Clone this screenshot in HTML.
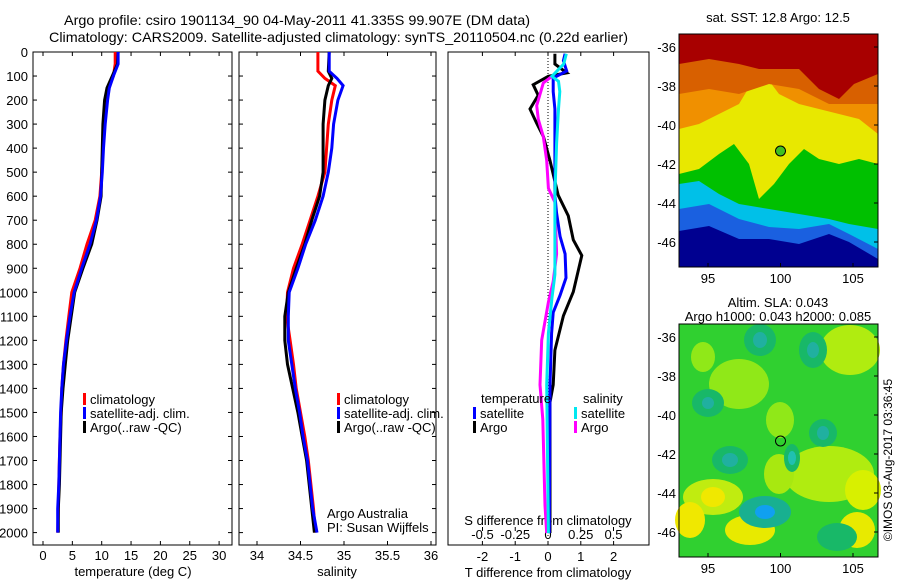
<!DOCTYPE html>
<html><head><meta charset="utf-8"><style>
html,body{margin:0;padding:0;background:#fff;width:900px;height:580px;overflow:hidden}
svg{display:block;font-family:"Liberation Sans",sans-serif}
text{font-size:13px;fill:#000}
</style></head><body>
<svg id="fig" width="900" height="580" viewBox="0 0 900 580" xmlns="http://www.w3.org/2000/svg">
<text x="64" y="25" style="font-size:14px" textLength="466" lengthAdjust="spacingAndGlyphs">Argo profile: csiro 1901134_90 04-May-2011 41.335S 99.907E (DM data)</text>
<text x="49" y="42" style="font-size:14px" textLength="579" lengthAdjust="spacingAndGlyphs">Climatology: CARS2009. Satellite-adjusted climatology: synTS_20110504.nc (0.22d earlier)</text>

<g transform="translate(679,34)">
<rect x="0" y="0" width="199" height="233" fill="#000090"/>
<polygon fill="#1a60e0" points="0,0 199,0 199,225 170,208 150,200 120,210 90,205 60,205 30,192 0,197"/>
<polygon fill="#00c0e8" points="0,0 199,0 199,215 170,200 150,190 120,195 90,193 60,185 30,170 0,175"/>
<polygon fill="#00c000" points="0,0 199,0 199,195 170,190 150,185 120,180 90,175 60,170 40,160 20,147 0,150"/>
<polygon fill="#e8e800" points="0,0 199,0 199,130 180,125 160,130 140,125 125,115 110,130 95,150 80,165 70,130 55,110 40,120 20,135 0,140"/>
<polygon fill="#f09000" points="0,0 199,0 199,100 180,85 160,80 140,75 120,70 100,60 85,40 75,45 60,70 40,80 20,90 0,95"/>
<polygon fill="#d86000" points="0,0 199,0 199,70 150,70 120,55 90,50 60,60 30,55 0,60"/>
<polygon fill="#a80000" points="0,0 199,0 199,40 175,50 160,65 140,55 120,35 100,35 80,35 60,30 30,25 0,30"/>
<circle cx="101.5" cy="117" r="5" fill="#40c020" stroke="#000" stroke-width="1"/>
<rect x="0" y="0" width="199" height="233" fill="none" stroke="#000" stroke-width="1"/>
</g>
<text x="778" y="22" text-anchor="middle">sat. SST: 12.8 Argo: 12.5</text>

<g transform="translate(679,324)">
<rect x="0" y="0" width="199" height="233" fill="#30d030"/>
<ellipse cx="60" cy="60" rx="30" ry="25" fill="#90e818"/>
<ellipse cx="171" cy="26" rx="30" ry="25" fill="#b0ec10"/>
<ellipse cx="24" cy="33" rx="12" ry="15" fill="#90e818"/>
<ellipse cx="101" cy="96" rx="14" ry="18" fill="#90e818"/>
<ellipse cx="150" cy="150" rx="45" ry="28" fill="#b0ec10"/>
<ellipse cx="184" cy="166" rx="18" ry="20" fill="#d8f000"/>
<ellipse cx="34" cy="173" rx="30" ry="18" fill="#c0ec10"/>
<ellipse cx="34" cy="173" rx="12" ry="10" fill="#f0e800"/>
<ellipse cx="11" cy="196" rx="15" ry="18" fill="#f0e800"/>
<ellipse cx="71" cy="206" rx="25" ry="15" fill="#e8ea00"/>
<ellipse cx="178" cy="206" rx="18" ry="18" fill="#e8ea00"/>
<ellipse cx="100" cy="150" rx="15" ry="20" fill="#a8e810"/>
<ellipse cx="81" cy="16" rx="16" ry="16" fill="#18b868"/>
<ellipse cx="81" cy="16" rx="7" ry="8" fill="#20b0a0"/>
<ellipse cx="134" cy="26" rx="14" ry="18" fill="#18b868"/>
<ellipse cx="134" cy="26" rx="6" ry="8" fill="#20b0a0"/>
<ellipse cx="29" cy="79" rx="16" ry="14" fill="#18b868"/>
<ellipse cx="29" cy="79" rx="6" ry="6" fill="#20b0a0"/>
<ellipse cx="144" cy="109" rx="14" ry="14" fill="#18b868"/>
<ellipse cx="144" cy="109" rx="6" ry="7" fill="#20b0a0"/>
<ellipse cx="113" cy="134" rx="8" ry="14" fill="#18b868"/>
<ellipse cx="113" cy="134" rx="4" ry="7" fill="#20c0b0"/>
<ellipse cx="51" cy="136" rx="18" ry="14" fill="#18b868"/>
<ellipse cx="51" cy="136" rx="8" ry="7" fill="#20b0a0"/>
<ellipse cx="86" cy="188" rx="26" ry="16" fill="#18b090"/>
<ellipse cx="86" cy="188" rx="10" ry="7" fill="#10a0f0"/>
<ellipse cx="158" cy="213" rx="20" ry="14" fill="#18b868"/>
<circle cx="101.5" cy="117" r="5" fill="none" stroke="#000" stroke-width="1"/>
<rect x="0" y="0" width="199" height="233" fill="none" stroke="#000" stroke-width="1"/>
</g>
<text x="778" y="307" text-anchor="middle">Altim. SLA: 0.043</text>
<text x="778" y="321" text-anchor="middle">Argo h1000: 0.043 h2000: 0.085</text>
<text transform="translate(892,460) rotate(-90)" text-anchor="middle" style="font-size:12px">©IMOS 03-Aug-2017 03:36:45</text>
</svg>
<script>
// ---- data ----
const depthTicks = [0,100,200,300,400,500,600,700,800,900,1000,1100,1200,1300,1400,1500,1600,1700,1800,1900,2000];
const tempTicks = [0,5,10,15,20,25,30];
const salTicks = [34,34.5,35,35.5,36];
const dTTicks = [-2,-1,0,1,2];
const dSTicks = [-0.5,-0.25,0,0.25,0.5];
const latTicks = [-36,-38,-40,-42,-44,-46];
const lonTicks = [95,100,105];

const tDepth = [0,50,100,150,200,300,400,500,600,700,800,900,1000,1100,1200,1300,1400,1500,1600,1700,1800,1900,2000];
const tClim = [12.3,12.3,12.0,11.2,10.8,10.4,10.2,10.0,9.7,8.9,7.5,6.3,4.9,4.4,3.9,3.5,3.2,3.1,2.9,2.8,2.7,2.6,2.5];
const tSat = [12.8,12.8,12.0,11.3,11.0,10.6,10.3,10.1,9.8,9.1,8.0,6.6,5.3,4.6,4.0,3.5,3.2,3.0,2.9,2.8,2.7,2.5,2.5];
const tArgo = [12.8,12.7,11.8,10.9,10.5,10.2,10.1,10.0,9.9,9.2,8.3,6.8,5.4,4.8,4.2,3.8,3.4,3.1,3.0,2.9,2.8,2.6,2.6];

const sDepth = [0,80,110,140,200,300,400,500,600,700,800,900,1000,1100,1200,1300,1400,1500,1600,1700,1800,1900,2000];
const sClim = [34.70,34.70,34.78,34.90,34.86,34.82,34.80,34.78,34.70,34.61,34.52,34.42,34.35,34.34,34.38,34.42,34.45,34.50,34.55,34.59,34.62,34.65,34.67];
const sSat = [34.83,34.83,34.92,34.99,34.93,34.88,34.86,34.82,34.76,34.67,34.56,34.47,34.37,34.36,34.36,34.40,34.44,34.49,34.53,34.58,34.61,34.64,34.69];
const sArgo = [34.83,34.82,34.86,34.82,34.78,34.76,34.76,34.76,34.72,34.63,34.55,34.45,34.36,34.32,34.32,34.35,34.41,34.47,34.52,34.57,34.60,34.63,34.66];

const dTArgoDepth = [7,50,87,101,136,180,237,295,352,452,596,682,782,847,998,1098,1241,1385,1457,2002];
const dTArgo = [0.21,0.21,0.57,0.01,-0.45,-0.30,-0.55,-0.35,-0.14,0.06,0.31,0.62,0.77,1.03,0.77,0.47,0.21,0.16,0.06,0.06];
const dTSatDepth = [7,36,79,108,165,237,380,596,668,768,840,940,1012,1084,1170,1385,2002];
const dTSat = [0.52,0.47,0.57,0.16,0.16,0.21,0.21,0.21,0.26,0.37,0.52,0.55,0.37,0.16,0.11,0.06,0.04];
const dSSatDepth = [7,50,101,122,165,237,380,596,811,926,1026,1170,1385,2002];
const dSSat = [0.14,0.12,0.03,0.08,0.09,0.08,0.066,0.053,0.053,0.053,0.03,0.003,-0.01,0.003];
const dSArgoDepth = [101,129,223,280,352,452,567,625,840,955,1041,1199,1385,1528,1887,2002];
const dSArgo = [0.03,-0.036,-0.086,-0.074,-0.036,-0.01,0.003,0.053,0.066,0.04,0.003,-0.048,-0.061,-0.04,-0.023,-0.01];

// ---- axes ----
const NS = 'http://www.w3.org/2000/svg';
const svg = document.getElementById('fig');
const TOP = 52, BOT = 545;
const yD = d => TOP + d * 0.2403;
const xT = t => 43 + t * 5.87;
const xS = s => 257 + (s - 34) * 87;
const xDT = t => 548 + t * 32.8;
const xDS = s => 548 + s * 131;
const latY = l => 47 + (-36 - l) * 19.5;
const lonX = l => 708 + (l - 95) * 14.5;

function mk(tag, attrs, parent) {
  const e = document.createElementNS(NS, tag);
  for (const k in attrs) e.setAttribute(k, attrs[k]);
  (parent || svg).appendChild(e);
  return e;
}
function txt(x, y, s, anchor, parent) {
  const t = mk('text', {x: x, y: y, 'text-anchor': anchor || 'middle'}, parent);
  t.textContent = s;
  return t;
}

const panels = [[33,232],[239,436],[448,649]];
panels.forEach((p, i) => {
  const r = mk('rect', {x: p[0], y: TOP, width: p[1]-p[0], height: BOT-TOP, fill: 'none', stroke: '#000', 'stroke-width': 1});
  
  
});

const yAxis = mk('g', {});


depthTicks.forEach(d => {
  const y = yD(d);
  mk('line', {x1: 33, x2: 37, y1: y, y2: y, stroke: '#000'}, yAxis);
  mk('line', {x1: 228, x2: 232, y1: y, y2: y, stroke: '#000'}, yAxis);
  mk('line', {x1: 239, x2: 243, y1: y, y2: y, stroke: '#000'}, yAxis);
  mk('line', {x1: 432, x2: 436, y1: y, y2: y, stroke: '#000'}, yAxis);
  const t = txt(28, y + 5, String(d), 'end', yAxis);
  
  
});

const tAx = mk('g', {});


tempTicks.forEach(v => {
  const x = xT(v);
  mk('line', {x1: x, x2: x, y1: BOT, y2: BOT-4, stroke: '#000'}, tAx);
  mk('line', {x1: x, x2: x, y1: TOP, y2: TOP+4, stroke: '#000'}, tAx);
  txt(x, 560, String(v), 'middle', tAx);
});
const tTitle = txt(133, 576, 'temperature (deg C)', 'middle');



const sAx = mk('g', {});


salTicks.forEach(v => {
  const x = xS(v);
  mk('line', {x1: x, x2: x, y1: BOT, y2: BOT-4, stroke: '#000'}, sAx);
  mk('line', {x1: x, x2: x, y1: TOP, y2: TOP+4, stroke: '#000'}, sAx);
  txt(x, 560, String(v), 'middle', sAx);
});
const sTitle = txt(337, 576, 'salinity', 'middle');



const dAx = mk('g', {});


dTTicks.forEach(v => {
  const x = xDT(v);
  mk('line', {x1: x, x2: x, y1: BOT, y2: BOT-4, stroke: '#000'}, dAx);
  mk('line', {x1: x, x2: x, y1: TOP, y2: TOP+4, stroke: '#000'}, dAx);
  txt(x, 561, String(v), 'middle', dAx);
});
dSTicks.forEach(v => {
  const x = xDS(v);
  mk('line', {x1: x, x2: x, y1: 531, y2: 527, stroke: '#000'}, dAx);
  txt(x, 539, String(v), 'middle', dAx);
});
const dtTitle = txt(548, 577, 'T difference from climatology', 'middle');


const dsTitle = txt(548, 525, 'S difference from climatology', 'middle');


const zl = mk('line', {x1: 548, x2: 548, y1: TOP, y2: BOT, stroke: '#000', 'stroke-dasharray': '1,2'});



latTicks.forEach(l => {
  [34, 324].forEach(off => {
    const y = latY(l) + (off - 34);
    const t = txt(676, y + 5, String(l), 'end');
    
    
    mk('line', {x1: 878, x2: 874, y1: y, y2: y, stroke: '#000'});
  });
});
lonTicks.forEach(l => {
  [267, 557].forEach(b => {
    const x = lonX(l);
    const t = txt(x, b + 16, String(l), 'middle');
    
    
    mk('line', {x1: x, x2: x, y1: b, y2: b-4, stroke: '#000'});
  });
});

function line(xs, ds, xf, color, name) {
  const pts = xs.map((v, i) => xf(v).toFixed(1) + ',' + yD(ds[i]).toFixed(1)).join(' ');
  const pl = mk('polyline', {points: pts, fill: 'none', stroke: color, 'stroke-width': 3, 'stroke-linejoin': 'miter'});
  
  
}
line(tClim, tDepth, xT, '#ff0000', 'temperature-climatology-line');
line(tArgo, tDepth, xT, '#000000', 'temperature-argo-line');
line(tSat, tDepth, xT, '#0000ff', 'temperature-satellite-line');
line(sClim, sDepth, xS, '#ff0000', 'salinity-climatology-line');
line(sArgo, sDepth, xS, '#000000', 'salinity-argo-line');
line(sSat, sDepth, xS, '#0000ff', 'salinity-satellite-line');
line(dTArgo, dTArgoDepth, xDT, '#000000', 't-diff-argo-line');
line(dSArgo, dSArgoDepth, xDS, '#ff00ff', 's-diff-argo-line');
line(dTSat, dTSatDepth, xDT, '#0000ff', 't-diff-satellite-line');
line(dSSat, dSSatDepth, xDS, '#00e8f0', 's-diff-satellite-line');

function legend(x, y, color, label, name) {
  const g = mk('g', {});
  
  
  mk('rect', {x: x, y: y - 10, width: 3, height: 12, fill: color}, g);
  txt(x + 7, y + 1, label, 'start', g);
}
[[83,'p1'],[337,'p2']].forEach(([x, p]) => {
  legend(x, 403, '#ff0000', 'climatology', 'legend-entry-climatology-' + p);
  legend(x, 417, '#0000ff', 'satellite-adj. clim.', 'legend-entry-satellite-' + p);
  legend(x, 431, '#000000', 'Argo(..raw -QC)', 'legend-entry-argo-' + p);
});
const lt = txt(481, 403, 'temperature', 'start');


const ls = txt(583, 403, 'salinity', 'start');


legend(473, 417, '#0000ff', 'satellite', 'legend-entry-t-satellite');
legend(473, 431, '#000000', 'Argo', 'legend-entry-t-argo');
legend(574, 417, '#00e8f0', 'satellite', 'legend-entry-s-satellite');
legend(574, 431, '#ff00ff', 'Argo', 'legend-entry-s-argo');

const a1 = txt(327, 518, 'Argo Australia', 'start');


const a2 = txt(327, 532, 'PI: Susan Wijffels', 'start');


</script>
</body></html>
